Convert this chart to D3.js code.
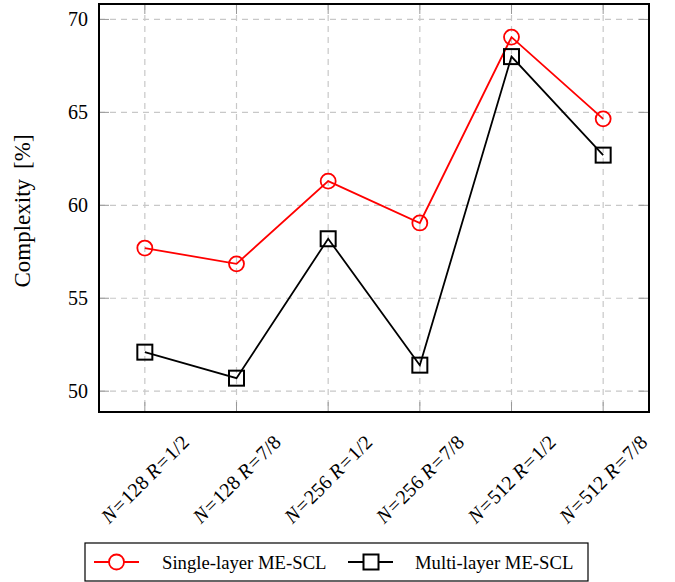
<!DOCTYPE html>
<html>
<head>
<meta charset="utf-8">
<script src="https://cdn.jsdelivr.net/npm/d3@7"></script>
<style>
  body { margin: 0; background: #fff; }
  svg { display: block; font-family: "Liberation Serif", "DejaVu Serif", serif; }
</style>
</head>
<body>
<div id="chart"></div>
<script>
var categories = ["N=128 R=1/2", "N=128 R=7/8", "N=256 R=1/2", "N=256 R=7/8", "N=512 R=1/2", "N=512 R=7/8"];
var singleLayer = [57.7, 56.85, 61.3, 59.05, 69.05, 64.65];
var multiLayer = [52.1, 50.7, 58.2, 51.4, 68.0, 62.7];
var yTicks = [50, 55, 60, 65, 70];
var seriesNames = ["Single-layer ME-SCL", "Multi-layer ME-SCL"];

var width = 675, height = 582;
var m = {top: 4, right: 26, bottom: 170, left: 99};
var w = width - m.left - m.right;
var h = height - m.top - m.bottom;

var svg = d3.select("#chart").append("svg")
  .attr("width", width)
  .attr("height", height);

var x = d3.scaleLinear().domain([-0.5, categories.length - 0.5]).range([m.left, m.left + w]);
var y = d3.scaleLinear().domain([48.88, 70.83]).range([m.top + h, m.top]);

var grid = svg.append("g");
// dashed grid
grid.selectAll(".hg").data(yTicks).enter().append("line")
  .attr("x1", m.left).attr("x2", m.left + w)
  .attr("y1", function(d) { return y(d); }).attr("y2", function(d) { return y(d); })
  .attr("stroke", "#c8c8c8").attr("stroke-width", 1.2).attr("stroke-dasharray", "6,5");
grid.selectAll(".vg").data(categories).enter().append("line")
  .attr("x1", function(d, i) { return x(i); }).attr("x2", function(d, i) { return x(i); })
  .attr("y1", m.top).attr("y2", m.top + h)
  .attr("stroke", "#c8c8c8").attr("stroke-width", 1.2).attr("stroke-dasharray", "6,5");

// tick marks inside frame
var tl = 10;
yTicks.forEach(function(d) {
  grid.append("line").attr("x1", m.left).attr("x2", m.left + tl).attr("y1", y(d)).attr("y2", y(d)).attr("stroke", "#999");
  grid.append("line").attr("x1", m.left + w - tl).attr("x2", m.left + w).attr("y1", y(d)).attr("y2", y(d)).attr("stroke", "#999");
});
categories.forEach(function(d, i) {
  grid.append("line").attr("x1", x(i)).attr("x2", x(i)).attr("y1", m.top).attr("y2", m.top + tl).attr("stroke", "#999");
  grid.append("line").attr("x1", x(i)).attr("x2", x(i)).attr("y1", m.top + h - tl).attr("y2", m.top + h).attr("stroke", "#999");
});

// y tick labels
svg.append("g").selectAll("text").data(yTicks).enter().append("text")
  .attr("x", m.left - 11)
  .attr("y", function(d) { return y(d); })
  .attr("dy", "0.35em")
  .attr("text-anchor", "end")
  .attr("font-size", 20)
  .text(function(d) { return d; });

// x tick labels (rotated, math-style italic letters)
var xl = svg.append("g").selectAll("text").data(categories).enter().append("text")
  .attr("text-anchor", "middle")
  .attr("dy", "0.35em")
  .attr("font-size", 20)
  .attr("transform", function(d, i) { return "translate(" + x(i) + "," + (m.top + h + 67) + ") rotate(-45)"; });
xl.each(function(d) {
  var t = d3.select(this);
  d.split(/([A-Z]|=)/).forEach(function(part) {
    if (!part) return;
    var s = t.append("tspan").text(part);
    if (/^[A-Z]$/.test(part)) s.attr("font-style", "italic");
    if (part === "=") s.attr("dx", 1.5);
    if (/^\d/.test(part)) s.attr("dx", 1.5);
  });
});

// y axis title
var yt = svg.append("text")
  .attr("transform", "translate(30,211) rotate(-90)")
  .attr("text-anchor", "middle")
  .attr("font-size", 23);
yt.append("tspan").text("Complexity");
yt.append("tspan").attr("dx", 10).text("[%]");

var line = d3.line().x(function(d, i) { return x(i); }).y(function(d) { return y(d); });

function drawSeries(values, color, shape) {
  svg.append("path").datum(values)
    .attr("d", line).attr("fill", "none")
    .attr("stroke", color).attr("stroke-width", 1.8);
  var g = svg.append("g");
  values.forEach(function(v, i) {
    if (shape === "circle") {
      g.append("circle").attr("cx", x(i)).attr("cy", y(v)).attr("r", 7.5)
        .attr("fill", "none").attr("stroke", color).attr("stroke-width", 1.8);
    } else {
      g.append("rect").attr("x", x(i) - 7.5).attr("y", y(v) - 7.5)
        .attr("width", 15).attr("height", 15)
        .attr("fill", "none").attr("stroke", color).attr("stroke-width", 2);
    }
  });
}
drawSeries(singleLayer, "#ff0000", "circle");
drawSeries(multiLayer, "#000000", "square");

// frame
svg.append("rect").attr("x", m.left).attr("y", m.top).attr("width", w).attr("height", h)
  .attr("fill", "none").attr("stroke", "#000").attr("stroke-width", 2);

// legend
var lg = svg.append("g");
lg.append("rect").attr("x", 85).attr("y", 543).attr("width", 503).attr("height", 38)
  .attr("fill", "#fff").attr("stroke", "#000").attr("stroke-width", 1.2);
var ly = 562;
lg.append("line").attr("x1", 94).attr("x2", 139).attr("y1", ly).attr("y2", ly).attr("stroke", "#ff0000").attr("stroke-width", 1.8);
lg.append("circle").attr("cx", 116.5).attr("cy", ly).attr("r", 7.5).attr("fill", "#fff").attr("stroke", "#ff0000").attr("stroke-width", 1.8);
lg.append("text").attr("x", 162).attr("y", ly).attr("dy", "0.35em").attr("font-size", 18.7).text(seriesNames[0]);
lg.append("line").attr("x1", 348).attr("x2", 393).attr("y1", ly).attr("y2", ly).attr("stroke", "#000").attr("stroke-width", 1.8);
lg.append("rect").attr("x", 371 - 7.5).attr("y", ly - 7.5).attr("width", 15).attr("height", 15).attr("fill", "#fff").attr("stroke", "#000").attr("stroke-width", 2);
lg.append("text").attr("x", 415).attr("y", ly).attr("dy", "0.35em").attr("font-size", 18.7).text(seriesNames[1]);
</script>
</body>
</html>
